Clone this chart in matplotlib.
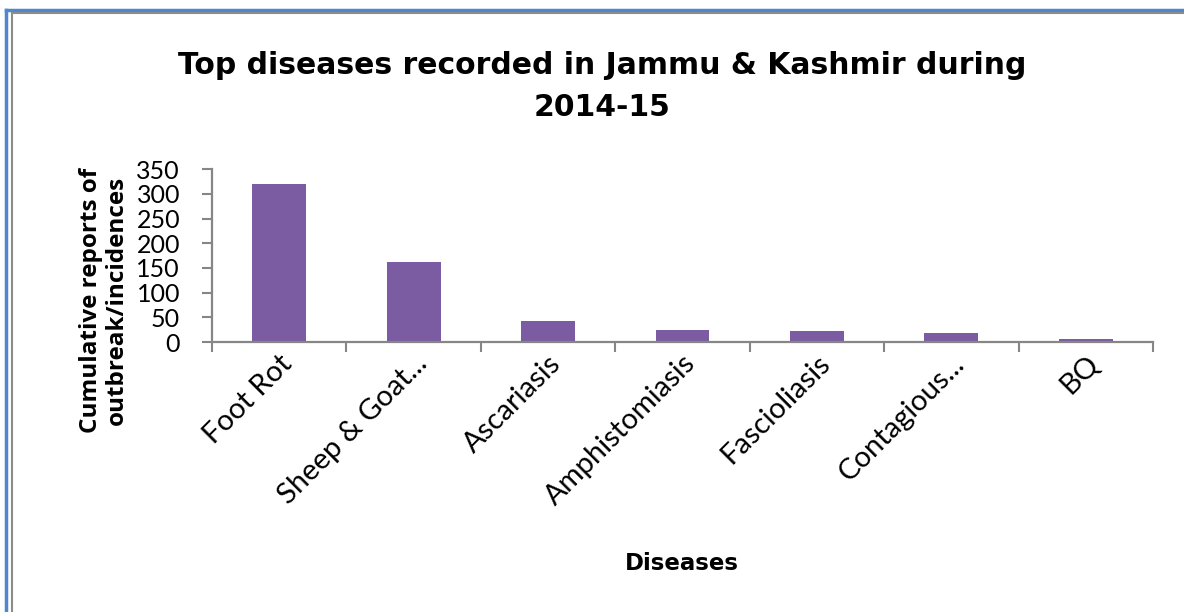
import matplotlib
matplotlib.use("Agg")
import matplotlib.pyplot as plt
from matplotlib.lines import Line2D
import numpy as np

# data
diseases = ["Foot Rot", "Sheep & Goat...", "Ascariasis", "Amphistomiasis",
            "Fascioliasis", "Contagious...", "BQ"]
reports = [320, 162, 42, 24, 22, 18, 6]
yticks = [0, 50, 100, 150, 200, 250, 300, 350]

bar_color = "#7B5CA2"
axis_color = "#868686"
W, H = 1184, 612

fig = plt.figure(figsize=(W / 100, H / 100), dpi=100)
fig.patch.set_facecolor("white")

ax = fig.add_axes([212 / W, 1 - 342 / H, (1153 - 212) / W, (342 - 169.3) / H])

x = np.arange(len(diseases))
ax.bar(x, reports, width=0.4, color=bar_color, zorder=2)

ax.set_xlim(-0.5, len(diseases) - 0.5)
ax.set_ylim(0, 350)
ax.set_yticks(yticks)
ax.set_yticklabels([str(v) for v in yticks], fontsize=18, family="Lato")

# category labels at centres, tick marks at the boundaries
ax.set_xticks(x)
ax.set_xticklabels(diseases, rotation=45, ha="right", va="top",
                   rotation_mode="anchor", fontsize=21, family="Lato")
ax.set_xticks(np.arange(len(diseases) + 1) - 0.5, minor=True)
ax.tick_params(axis="x", which="major", length=0, pad=6)
ax.tick_params(axis="x", which="minor", length=7, width=1.5, color=axis_color,
               direction="out")
ax.tick_params(axis="y", length=7, width=1.5, color=axis_color, pad=16)

for s in ["top", "right"]:
    ax.spines[s].set_visible(False)
for s in ["left", "bottom"]:
    ax.spines[s].set_color(axis_color)
    ax.spines[s].set_linewidth(1.6)

# title and axis titles
fig.text(602 / W, 1 - 65 / H, "Top diseases recorded in Jammu & Kashmir during",
         ha="center", va="center", fontsize=21.5, fontweight="bold",
         family="DejaVu Sans")
fig.text(602 / W, 1 - 107 / H, "2014-15", ha="center", va="center",
         fontsize=21.5, fontweight="bold", family="DejaVu Sans")
fig.text(104 / W, 1 - 300 / H, "Cumulative reports of\noutbreak/incidences",
         ha="center", va="center", rotation=90, fontsize=17.5,
         fontweight="bold", family="Open Sans", linespacing=1.15)
fig.text(682 / W, 1 - 563 / H, "Diseases", ha="center", va="center",
         fontsize=16.5, fontweight="bold", family="DejaVu Sans")

# frame lines along top and left edge
fig.add_artist(Line2D([6 / W, 1], [1 - 10 / H, 1 - 10 / H], color="#4F86D0",
                      lw=2.5, transform=fig.transFigure))
fig.add_artist(Line2D([6 / W, 6 / W], [0, 1 - 10 / H], color="#4F86D0",
                      lw=2.5, transform=fig.transFigure))
fig.add_artist(Line2D([12 / W, 1], [1 - 12.5 / H, 1 - 12.5 / H], color="#8C8C8C",
                      lw=1.5, transform=fig.transFigure))
fig.add_artist(Line2D([12 / W, 12 / W], [0, 1 - 12.5 / H], color="#8C8C8C",
                      lw=1.5, transform=fig.transFigure))

fig.savefig("out.png", dpi=100)
